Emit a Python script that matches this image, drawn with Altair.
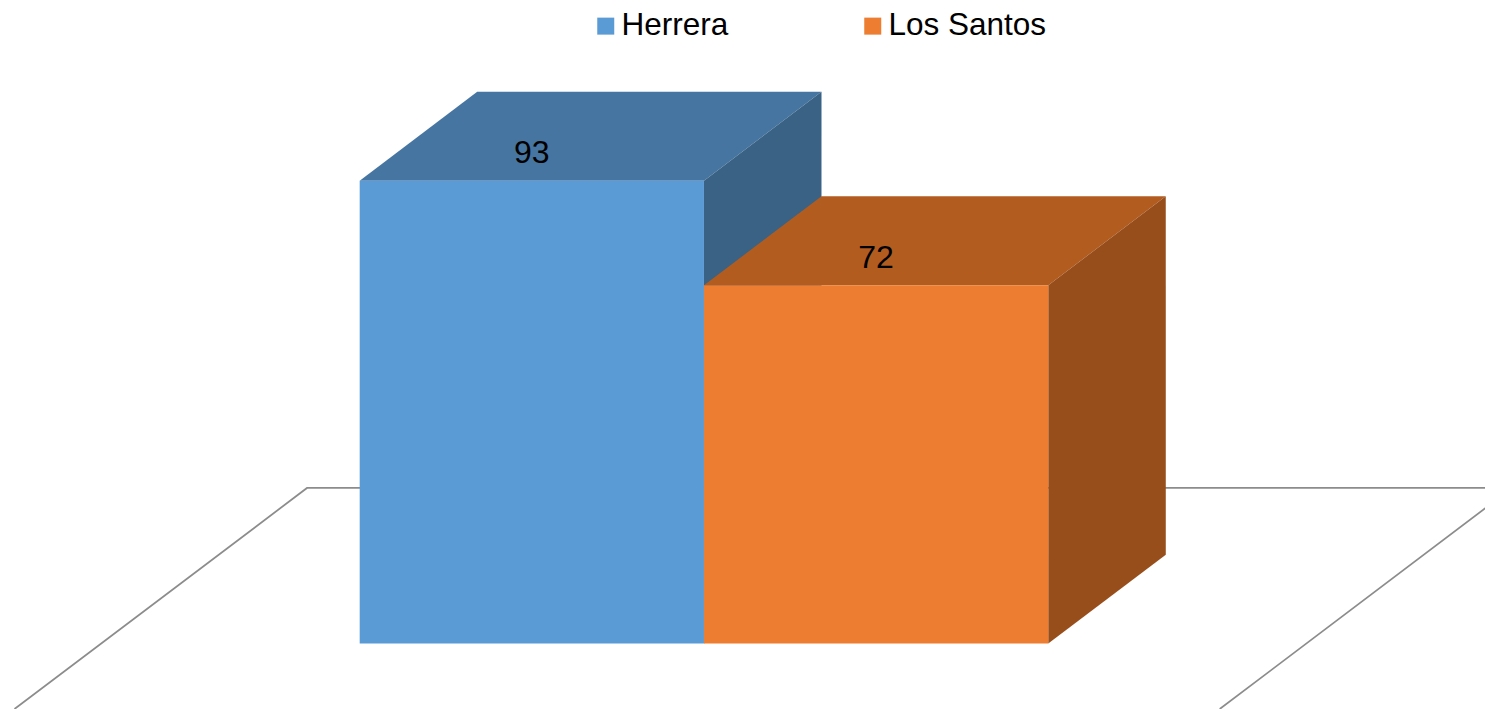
import altair as alt
import pandas as pd

# Chart values
categories = ["Herrera", "Los Santos"]
values = [93, 72]
front_colors = ["#5B9BD5", "#ED7D31"]
top_colors = ["#4675A1", "#B25C20"]
side_colors = ["#396285", "#984E1B"]

# Oblique projection of the 3D bars, in data units
DEPTH_X = 0.3413
DEPTH_Y = 17.85
LABEL_LIFT = 5.5

# Floor outline, in data units (front-left, back-left, back-right, front-right)
floor_x = [-1.0026, -0.153, 3.347, 2.498]
floor_y = [-13.16, 31.25, 31.25, -13.16]

X_DOMAIN = [-1.0215, 3.2685]
Y_DOMAIN = [-13.16, 127.7]
FONT = "Liberation Sans"

x_scale = alt.Scale(domain=X_DOMAIN, nice=False, zero=False)
y_scale = alt.Scale(domain=Y_DOMAIN, nice=False, zero=False)


def X(field="x"):
    return alt.X(f"{field}:Q", scale=x_scale, axis=None)


def Y(field="y"):
    return alt.Y(f"{field}:Q", scale=y_scale, axis=None)


floor = pd.DataFrame({"x": floor_x, "y": floor_y, "i": range(len(floor_x))})
layers = [
    alt.Chart(floor)
    .mark_line(color="#8C8C8C", strokeWidth=1.75, clip=True, strokeJoin="miter")
    .encode(x=X(), y=Y(), order="i:O")
]

for i, (name, value) in enumerate(zip(categories, values)):
    x0, x1 = float(i), float(i + 1)
    top = pd.DataFrame(
        {
            "y": [value, value + DEPTH_Y],
            "x": [x0, x0 + DEPTH_X],
            "x2": [x1, x1 + DEPTH_X],
        }
    )
    side = pd.DataFrame(
        {
            "x": [x1, x1 + DEPTH_X],
            "y": [0, DEPTH_Y],
            "y2": [value, value + DEPTH_Y],
        }
    )
    layers.append(
        alt.Chart(top)
        .mark_area(orient="horizontal", color=top_colors[i])
        .encode(x=X(), x2="x2:Q", y=Y())
    )
    layers.append(
        alt.Chart(side)
        .mark_area(orient="vertical", color=side_colors[i])
        .encode(x=X(), y=Y(), y2="y2:Q")
    )

fronts = pd.DataFrame(
    {
        "name": categories,
        "x": [float(i) for i in range(len(values))],
        "x2": [float(i + 1) for i in range(len(values))],
        "y": [0] * len(values),
        "y2": values,
    }
)
layers.append(
    alt.Chart(fronts)
    .mark_rect()
    .encode(
        x=X(),
        x2="x2:Q",
        y=Y(),
        y2="y2:Q",
        color=alt.Color(
            "name:N",
            scale=alt.Scale(domain=categories, range=front_colors),
            legend=alt.Legend(
                title=None,
                orient="none",
                legendX=582,
                legendY=2,
                columns=2,
                columnPadding=128,
                symbolType="square",
                symbolSize=289,
                symbolStrokeWidth=0,
                symbolOpacity=1,
                labelFont=FONT,
                labelFontSize=31.5,
                labelColor="#000000",
                labelOffset=0,
                labelLimit=400,
                padding=0,
            ),
        ),
    )
)

labels = pd.DataFrame(
    {
        "x": [i + 0.5 for i in range(len(values))],
        "y": [v + LABEL_LIFT for v in values],
        "t": [str(v) for v in values],
    }
)
layers.append(
    alt.Chart(labels)
    .mark_text(font=FONT, fontSize=32, color="#000000", baseline="middle", align="center")
    .encode(x=X(), y=Y(), text="t:N")
)

chart = (
    alt.layer(*layers)
    .properties(width=1477, height=701, padding=0, autosize=alt.AutoSizeParams(type="none"))
    .configure_view(stroke=None)
)

chart.save("out.html", embed_options={"renderer": "svg", "actions": False})
